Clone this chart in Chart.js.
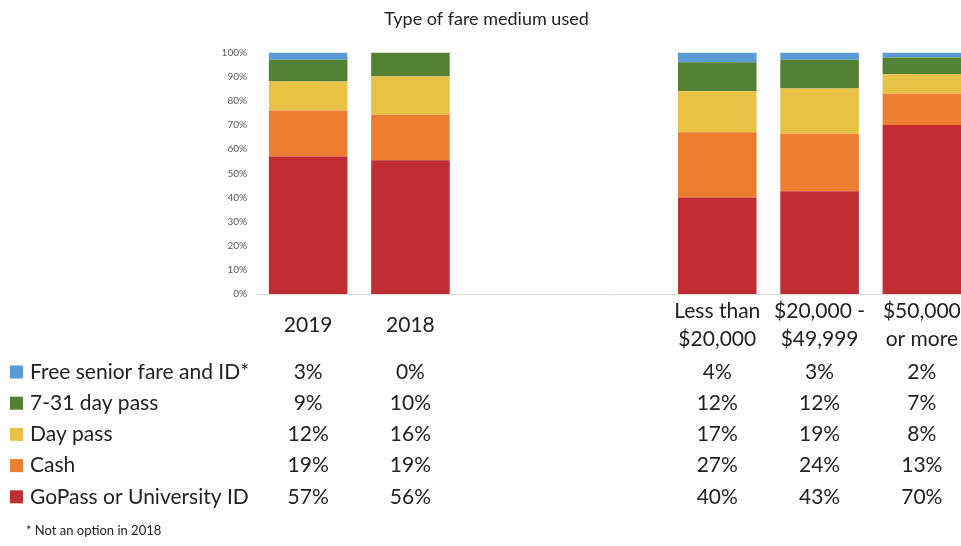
<!DOCTYPE html>
<html>
<head>
<meta charset="utf-8">
<script src="https://cdn.jsdelivr.net/npm/chart.js@4.4.1/dist/chart.umd.min.js"></script>
<style>
  html, body { margin: 0; padding: 0; background: #fff; overflow: hidden; }
  #wrap { width: 975px; height: 546px; }
</style>
</head>
<body>
<div id="wrap"><canvas id="fareChart" width="975" height="546"></canvas></div>
<script>
// categories (two empty slots make the gap between the years and the income groups)
const categories = [['2019'], ['2018'], [], [], ['Less than', '$20,000'], ['$20,000 -', '$49,999'], ['$50,000', 'or more']];

// series values, in percent (as printed in the table)
const seniorFare = [3, 0, null, null, 4, 3, 2];
const pass731   = [9, 10, null, null, 12, 12, 7];
const dayPass   = [12, 16, null, null, 17, 19, 8];
const cash      = [19, 19, null, null, 27, 24, 13];
const goPass    = [57, 56, null, null, 40, 43, 70];

const yTicks = [0, 10, 20, 30, 40, 50, 60, 70, 80, 90, 100];

const seriesNames = ['GoPass or University ID', 'Cash', 'Day pass', '7-31 day pass', 'Free senior fare and ID*'];
const seriesValues = [goPass, cash, dayPass, pass731, seniorFare];
const seriesColors = ['#C22D33', '#ED7D31', '#E8C244', '#548235', '#5B9BD5'];

const footnote = '* Not an option in 2018';
const FONT = 'Lato, "Open Sans", sans-serif';

// 100% stacked: each column is scaled to its own total
const totals = categories.map((c, i) => seriesValues.reduce((s, arr) => s + (arr[i] || 0), 0));
const toShare = arr => arr.map((v, i) => v === null ? null : v / totals[i] * 100);

const datasets = seriesNames.map((name, k) => ({
  label: name,
  data: toShare(seriesValues[k]),
  backgroundColor: seriesColors[k],
  borderWidth: 0,
  barPercentage: 0.768,
  categoryPercentage: 1
}));

// labels under the bars, legend rows and value table
const tablePlugin = {
  id: 'tablePlugin',
  afterDraw(chart) {
    const { ctx, scales: { x } } = chart;
    ctx.save();
    ctx.fillStyle = '#222';
    ctx.textBaseline = 'middle';

    // category labels
    ctx.font = `21px ${FONT}`;
    ctx.textAlign = 'center';
    categories.forEach((lines, i) => {
      const cx = x.getPixelForValue(i);
      const lh = 28;
      const y0 = 325 - (lines.length - 1) * lh / 2;
      lines.forEach((t, j) => ctx.fillText(t, cx, y0 + j * lh));
    });

    // rows: top row is the top of the stack
    const rowTop = 372, rowGap = 31.2;
    for (let r = 0; r < seriesNames.length; r++) {
      const k = seriesNames.length - 1 - r;
      const cy = rowTop + r * rowGap;
      ctx.fillStyle = seriesColors[k];
      ctx.fillRect(10, cy - 6.5, 13, 13);
      ctx.fillStyle = '#222';
      ctx.textAlign = 'left';
      ctx.fillText(seriesNames[k], 30, cy);
      ctx.textAlign = 'center';
      seriesValues[k].forEach((v, i) => {
        if (v === null) return;
        ctx.fillText(v + '%', x.getPixelForValue(i), cy);
      });
    }

    ctx.font = `13px ${FONT}`;
    ctx.textAlign = 'left';
    ctx.fillText(footnote, 26, 531);
    ctx.restore();
  }
};

new Chart(document.getElementById('fareChart'), {
  type: 'bar',
  data: { labels: categories, datasets },
  options: {
    responsive: false,
    animation: false,
    layout: { padding: { top: 0, right: 2, bottom: 252, left: 0 } },
    plugins: {
      legend: { display: false },
      tooltip: { enabled: false },
      title: {
        display: true,
        text: 'Type of fare medium used',
        color: '#222',
        font: { family: FONT, size: 18, weight: 'normal' },
        padding: { top: 8, bottom: 23 }
      }
    },
    scales: {
      x: {
        stacked: true,
        grid: { display: false, drawTicks: false },
        border: { display: true, color: '#d9d9d9', width: 1 },
        ticks: { display: false }
      },
      y: {
        stacked: true,
        min: 0,
        max: 100,
        afterFit: s => { s.width = 257; },
        afterBuildTicks: s => { s.ticks = yTicks.map(v => ({ value: v })); },
        grid: { display: false, drawTicks: false },
        border: { display: false },
        ticks: {
          padding: 10,
          color: '#595959',
          font: { family: FONT, size: 10 },
          callback: v => v + '%'
        }
      }
    }
  },
  plugins: [tablePlugin]
});
</script>
</body>
</html>
